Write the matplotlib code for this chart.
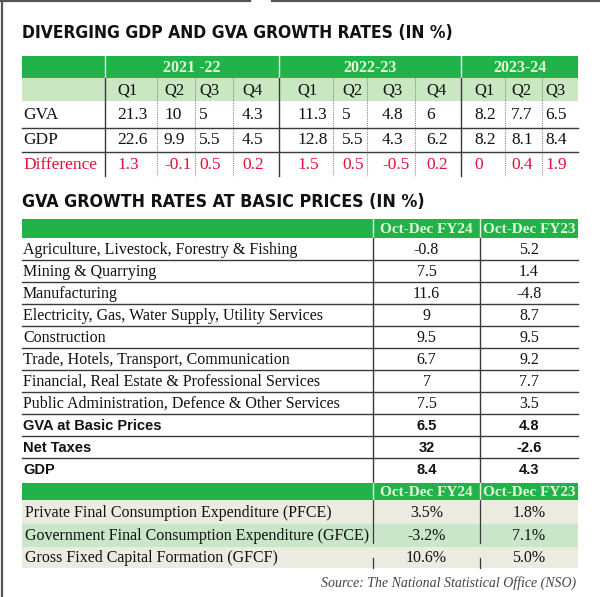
import matplotlib
matplotlib.use('Agg')
import matplotlib.pyplot as plt
from matplotlib.patches import Rectangle

# table 1: GDP vs GVA by quarter
years = ['2021 -22', '2022-23', '2023-24']
year_span = [4, 4, 3]
quarters = ['Q1', 'Q2', 'Q3', 'Q4', 'Q1', 'Q2', 'Q3', 'Q4', 'Q1', 'Q2', 'Q3']
gva = [21.3, 10, 5, 4.3, 11.3, 5, 4.8, 6, 8.2, 7.7, 6.5]
gdp = [22.6, 9.9, 5.5, 4.5, 12.8, 5.5, 4.3, 6.2, 8.2, 8.1, 8.4]
difference = [1.3, -0.1, 0.5, 0.2, 1.5, 0.5, -0.5, 0.2, 0, 0.4, 1.9]

# table 2: sector growth
periods = ['Oct-Dec FY24', 'Oct-Dec FY23']
sectors = ['Agriculture, Livestock, Forestry & Fishing',
           'Mining & Quarrying',
           'Manufacturing',
           'Electricity, Gas, Water Supply, Utility Services',
           'Construction',
           'Trade, Hotels, Transport, Communication',
           'Financial, Real Estate & Professional Services',
           'Public Administration, Defence & Other Services',
           'GVA at Basic Prices',
           'Net Taxes',
           'GDP']
sector_fy24 = [-0.8, 7.5, 11.6, 9, 9.5, 6.7, 7, 7.5, 6.5, 32, 8.4]
sector_fy23 = [5.2, 1.4, -4.8, 8.7, 9.5, 9.2, 7.7, 3.5, 4.8, -2.6, 4.3]
bold_rows = ['GVA at Basic Prices', 'Net Taxes', 'GDP']

# table 3: expenditure
expenditure = ['Private Final Consumption Expenditure (PFCE)',
               'Government Final Consumption Expenditure (GFCE)',
               'Gross Fixed Capital Formation (GFCF)']
exp_fy24 = [3.5, -3.2, 10.6]
exp_fy23 = [1.8, 7.1, 5.0]

GREEN = '#21b24a'
LIGHT = '#c9e8c2'
HEAD_TXT = '#e4f8d6'
RED = '#e3103a'
BEIGE = '#ecebe0'
ROWGREEN = '#c9e6c9'
LINE = '#3a3a3a'

TITLE_F = ['DejaVu Sans']
SERIF = ['Liberation Serif', 'DejaVu Serif']
SANSB = ['Liberation Sans', 'DejaVu Sans']

fig = plt.figure(figsize=(6, 5.97), dpi=100)
ax = fig.add_axes([0, 0, 1, 1])
ax.set_xlim(0, 600)
ax.set_ylim(597, 0)
ax.axis('off')
renderer = fig.canvas.get_renderer()

# frame
ax.plot([2, 2], [0, 597], color='#555555', lw=1.6)
ax.plot([0, 250], [1, 1], color='#555555', lw=1.6)
ax.plot([272, 600], [1, 1], color='#555555', lw=1.6)

X0, X1 = 22, 578


def rect(x, y, w, h, c):
    ax.add_patch(Rectangle((x, y), w, h, facecolor=c, edgecolor='none'))


def title(y, s, width):
    # shrink the heading until it spans the same width as in the print
    t = ax.text(X0, y, s, family=TITLE_F, fontsize=20, fontweight='bold',
                fontstretch='condensed', color='#111111', va='center', ha='left')
    w = t.get_window_extent(renderer).width
    t.set_fontsize(20 * width / w)
    return t


# ---------------- table 1 ----------------
title(33, 'DIVERGING GDP AND GVA GROWTH RATES (IN %)', 431)

edges = [22, 105, 157, 195, 233, 279, 333, 367, 415, 461, 505, 542, 578]
txt_x = [117, 164, 199, 242, 297, 342, 382, 426, 474, 511, 545]
h1, h2, r0, r1, r2, r3 = 56, 78, 101, 127.5, 151.5, 176

rect(X0, h1, X1 - X0, h2 - h1, GREEN)
rect(X0, h2, X1 - X0, r0 - h2, LIGHT)

k = 0
for yr, span in zip(years, year_span):
    left, right = edges[k + 1], edges[k + 1 + span]
    ax.text((left + right) / 2, (h1 + h2) / 2 + 1, yr, family=SERIF, fontsize=11.5,
            fontweight='bold', color=HEAD_TXT, ha='center', va='center')
    ax.plot([left, left], [h1, h2], color='#e8f5e0', lw=1)
    ax.plot([left, left], [h2, r3], color=LINE, lw=1)
    k += span

for i, q in enumerate(quarters):
    e = edges[i + 1]
    if e not in (edges[1], edges[5], edges[9]):
        ax.plot([e, e], [h2, r3], color='#888888', lw=0.8, ls=(0, (1, 1)))
    ax.text(txt_x[i], (h2 + r0) / 2 + 1, q, family=SERIF, fontsize=12,
            color='#111111', ha='left', va='center')

rows1 = [('GVA', gva, '#111111', r0, r1), ('GDP', gdp, '#111111', r1, r2),
         ('Difference', difference, RED, r2, r3)]
for name, vals, col, ya, yb in rows1:
    yc = (ya + yb) / 2 + 1
    ax.text(23, yc, name, family=SERIF, fontsize=12.5, color=col, ha='left', va='center')
    for i, v in enumerate(vals):
        ax.text(txt_x[i], yc, '{:g}'.format(v), family=SERIF, fontsize=12.5,
                color=col, ha='left', va='center')
for y in (r1, r2):
    ax.plot([X0, X1], [y, y], color=LINE, lw=1)

# ---------------- table 2 ----------------
title(202, 'GVA GROWTH RATES AT BASIC PRICES (IN %)', 401)

c1, c2 = 373, 480
t_top, t_bot = 219, 238
rect(X0, t_top, X1 - X0, t_bot - t_top, GREEN)
for j, p in enumerate(periods):
    xa, xb = (c1, c2) if j == 0 else (c2, X1)
    ax.text((xa + xb) / 2, (t_top + t_bot) / 2 + 1, p, family=SERIF, fontsize=11,
            fontweight='bold', color=HEAD_TXT, ha='center', va='center')

rh = 22
for i, s in enumerate(sectors):
    ya = t_bot + i * rh
    yc = ya + rh / 2 + 1
    if s in bold_rows:
        kw = dict(family=SANSB, fontsize=10.5, fontweight='bold')
    else:
        kw = dict(family=SERIF, fontsize=11.5)
    ax.text(23, yc, s, color='#111111', ha='left', va='center', **kw)
    ax.text((c1 + c2) / 2, yc, '{:g}'.format(sector_fy24[i]), color='#111111',
            ha='center', va='center', **kw)
    ax.text((c2 + X1) / 2, yc, '{:g}'.format(sector_fy23[i]), color='#111111',
            ha='center', va='center', **kw)
    if i < len(sectors) - 1:
        ax.plot([X0, X1], [ya + rh, ya + rh], color=LINE, lw=1)
for c in (c1, c2):
    ax.plot([c, c], [t_top, t_bot], color='#e8f5e0', lw=1)
    ax.plot([c, c], [t_bot, 483], color=LINE, lw=1)

# ---------------- table 3 ----------------
g_top, g_bot = 483, 500
rect(X0, g_top, X1 - X0, g_bot - g_top, GREEN)
for j, p in enumerate(periods):
    xa, xb = (c1, c2) if j == 0 else (c2, X1)
    ax.text((xa + xb) / 2, (g_top + g_bot) / 2 + 1, p, family=SERIF, fontsize=11,
            fontweight='bold', color=HEAD_TXT, ha='center', va='center')
for c in (c1, c2):
    ax.plot([c, c], [g_top, g_bot], color='#e8f5e0', lw=1)

row_bounds = [500, 524, 547, 568]
fills = [BEIGE, ROWGREEN, BEIGE]
for i, e in enumerate(expenditure):
    ya, yb = row_bounds[i], row_bounds[i + 1]
    rect(X0, ya, X1 - X0, yb - ya, fills[i])
    yc = (ya + yb) / 2 + 1
    ax.text(25, yc, e, family=SERIF, fontsize=11.5, color='#111111', ha='left', va='center')
    ax.text((c1 + c2) / 2, yc, '{:.1f}%'.format(exp_fy24[i]), family=SERIF, fontsize=11.5,
            color='#111111', ha='center', va='center')
    ax.text((c2 + X1) / 2, yc, '{:.1f}%'.format(exp_fy23[i]), family=SERIF, fontsize=11.5,
            color='#111111', ha='center', va='center')
for c in (c1, c2):
    ax.plot([c, c], [500, 543], color=LINE, lw=0.9)
    ax.plot([c, c], [558, 568], color=LINE, lw=0.9)

ax.text(576, 583, 'Source: The National Statistical Office (NSO)', family=SERIF,
        fontsize=10, style='italic', color='#444444', ha='right', va='center')

fig.savefig('out.png', dpi=100)
